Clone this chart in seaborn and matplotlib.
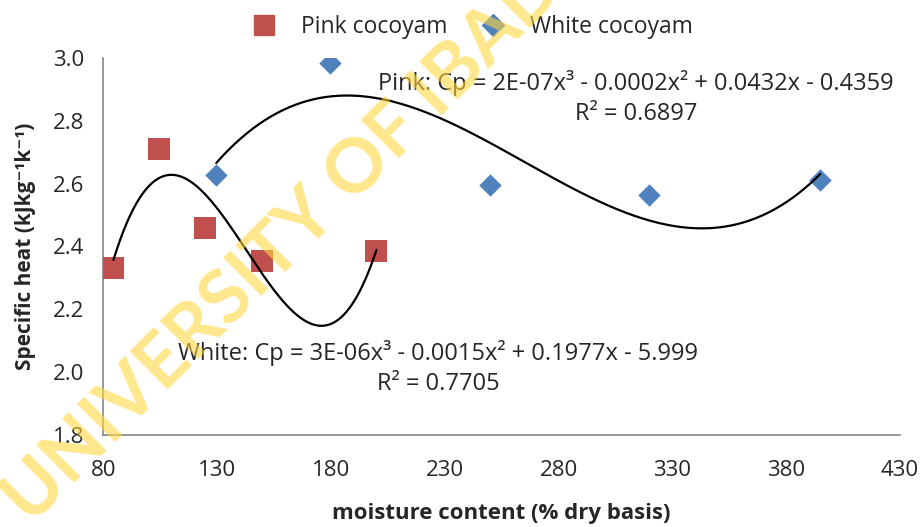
import matplotlib
matplotlib.use("Agg")
import matplotlib.pyplot as plt
from matplotlib.lines import Line2D
import seaborn as sns
import numpy as np
import pandas as pd

# data
pink_moisture = [84.4, 104.6, 124.8, 149.9, 200.0]
pink_cp = [2.33, 2.71, 2.46, 2.355, 2.385]
white_moisture = [129.6, 179.7, 250.0, 319.9, 395.0]
white_cp = [2.628, 2.985, 2.596, 2.564, 2.612]

x_ticks = [80, 130, 180, 230, 280, 330, 380, 430]
y_ticks = [1.8, 2.0, 2.2, 2.4, 2.6, 2.8, 3.0]

pink_eq = "Pink: Cp = 2E-07x³ - 0.0002x² + 0.0432x - 0.4359\nR² = 0.6897"
white_eq = "White: Cp = 3E-06x³ - 0.0015x² + 0.1977x - 5.999\nR² = 0.7705"

PINK = '#C0504D'
BLUE = '#4F81BD'


def main():
    sns.set_theme(style="white")
    plt.rcParams['font.family'] = ['Open Sans', 'DejaVu Sans']

    pink = pd.DataFrame({'moisture': pink_moisture, 'cp': pink_cp})
    white = pd.DataFrame({'moisture': white_moisture, 'cp': white_cp})

    fig, ax = plt.subplots(figsize=(9.23, 5.27), dpi=100)
    fig.subplots_adjust(left=0.112, right=0.975, top=0.89, bottom=0.175)

    sns.scatterplot(data=pink, x='moisture', y='cp', color=PINK, marker='s',
                    s=250, linewidth=0, ax=ax, zorder=3)
    sns.scatterplot(data=white, x='moisture', y='cp', color=BLUE, marker='D',
                    s=130, linewidth=0, ax=ax, zorder=3)

    # cubic trend lines
    for xs, ys in [(pink_moisture, pink_cp), (white_moisture, white_cp)]:
        coef = np.polyfit(xs, ys, 3)
        xx = np.linspace(min(xs), max(xs), 300)
        ax.plot(xx, np.polyval(coef, xx), color='black', lw=1.6, zorder=4)

    ax.set_xlim(80, 430)
    ax.set_ylim(1.8, 3.0)
    ax.set_xticks(x_ticks)
    ax.set_yticks(y_ticks)
    ax.set_yticklabels([f'{v:.1f}' for v in y_ticks])
    ax.tick_params(axis='y', labelsize=16, length=0, pad=14)
    ax.tick_params(axis='x', labelsize=16, length=0, pad=18)

    for s in ['top', 'right']:
        ax.spines[s].set_visible(False)
    for s in ['left', 'bottom']:
        ax.spines[s].set_color('#868686')
        ax.spines[s].set_linewidth(1.2)

    ax.set_xlabel('moisture content (% dry basis)', fontsize=16, fontweight='bold', labelpad=16)
    ax.set_ylabel('Specific heat (kJkg⁻¹k⁻¹)', fontsize=15,
                  fontweight='bold', labelpad=12)

    ax.text(314, 2.873, pink_eq, fontsize=17, ha='center', va='center',
            multialignment='center', linespacing=1.3)
    ax.text(227, 2.013, white_eq, fontsize=17, ha='center', va='center',
            multialignment='center', linespacing=1.3)

    handles = [
        Line2D([], [], ls='none', marker='s', color=PINK, markersize=15),
        Line2D([], [], ls='none', marker='D', color=BLUE, markersize=11),
    ]
    fig.legend(handles, ['Pink cocoyam', 'White cocoyam'], loc='upper center',
               bbox_to_anchor=(0.506, 1.01), ncol=2, frameon=False, fontsize=16.5,
               columnspacing=1.0, handletextpad=0.6)

    # library watermark
    fig.text(0.35, 0.61, 'UNIVERSITY OF IBADAN', fontsize=54, fontweight='bold',
             family='Lato', color='#FFD740', alpha=0.6, rotation=45,
             ha='center', va='center', zorder=10)

    fig.savefig('out.png', dpi=100)
    plt.close(fig)


if __name__ == "__main__":
    main()
